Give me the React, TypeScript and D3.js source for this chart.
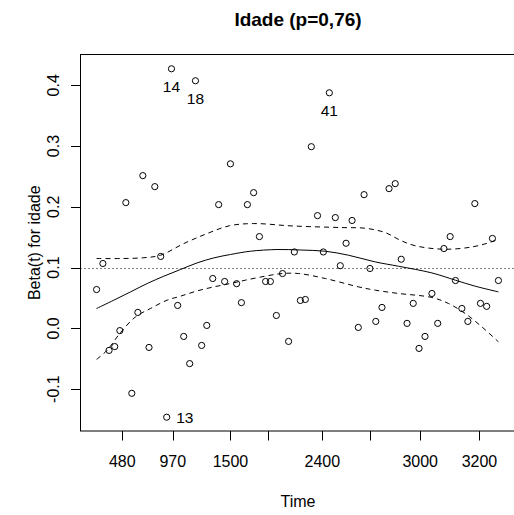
import React from "react";
import * as d3 from "d3";

// transformed time (0..1 over the data range) and scaled Schoenfeld residuals
const times = [
  0, 0.0157, 0.0311, 0.0452, 0.0579, 0.0728, 0.0877, 0.1027, 0.1151, 0.1305,
  0.1449, 0.1596, 0.1745, 0.1864, 0.2018, 0.2168, 0.2317, 0.2461, 0.2615, 0.2742,
  0.2891, 0.3038, 0.3187, 0.3331, 0.3485, 0.3604, 0.3753, 0.3908, 0.4052, 0.4206,
  0.4325, 0.4474, 0.4628, 0.4778, 0.4922, 0.5071, 0.5195, 0.5344, 0.5498, 0.5643,
  0.5792, 0.5941, 0.6065, 0.6209, 0.6358, 0.6513, 0.6657, 0.6803, 0.6948, 0.7102,
  0.7278, 0.7432, 0.7581, 0.7726, 0.788, 0.8024, 0.8173, 0.8345, 0.8489, 0.8643,
  0.8799, 0.8931, 0.909, 0.9239, 0.9413, 0.9553, 0.9707, 0.9851, 1,
];
const betas = [
  0.0639, 0.1067, -0.0363, -0.03, -0.0037, 0.2069, -0.1069, 0.0262, 0.2513, -0.0314,
  0.2332, 0.1183, -0.1462, 0.4271, 0.0377, -0.0133, -0.058, 0.4074, -0.0281, 0.0048,
  0.082, 0.2036, 0.0771, 0.2707, 0.0735, 0.0423, 0.2036, 0.2233, 0.151, 0.0771,
  0.0771, 0.0212, 0.0902, -0.0215, 0.1257, 0.0459, 0.0475, 0.2989, 0.1855, 0.1257,
  0.3876, 0.1823, 0.1031, 0.14, 0.1775, 0.0015, 0.22, 0.0985, 0.0114, 0.0344,
  0.2299, 0.2381, 0.1137, 0.0082, 0.0411, -0.033, -0.0133, 0.0574, 0.0082, 0.1313,
  0.151, 0.0787, 0.0327, 0.0114, 0.2053, 0.0411, 0.0362, 0.1479, 0.0787,
];

const fitT = [0, 0.043, 0.0845, 0.126, 0.1673, 0.2088, 0.2503, 0.2916, 0.3331, 0.3828, 0.4492, 0.5071, 0.5692, 0.6271, 0.6935, 0.7514, 0.8344, 0.8931, 0.9421, 1];
const fitY = [0.0327, 0.0464, 0.06, 0.0738, 0.0858, 0.0968, 0.1077, 0.1159, 0.1215, 0.1269, 0.1297, 0.1289, 0.1269, 0.1203, 0.1093, 0.1022, 0.0912, 0.0792, 0.0694, 0.06];

const upperT = [0, 0.0597, 0.1176, 0.1591, 0.217, 0.2752, 0.3306, 0.391, 0.4865, 0.6107, 0.6687, 0.7184, 0.7557, 0.793, 0.8643, 0.9339, 0.9836, 1];
const upperY = [0.1149, 0.1149, 0.1162, 0.1203, 0.1395, 0.156, 0.1688, 0.1724, 0.1685, 0.1658, 0.1647, 0.1576, 0.145, 0.1359, 0.1302, 0.1339, 0.1425, 0.1474];

const lowerT = [0, 0.0266, 0.0579, 0.0969, 0.1342, 0.1757, 0.2088, 0.2503, 0.2916, 0.3331, 0.3704, 0.4201, 0.4616, 0.5029, 0.5692, 0.652, 0.6935, 0.7514, 0.8344, 0.8757, 0.9172, 0.9587, 1];
const lowerY = [-0.0511, -0.0358, -0.0083, 0.0189, 0.0327, 0.0464, 0.0529, 0.0616, 0.0682, 0.0738, 0.0793, 0.0859, 0.0902, 0.0902, 0.082, 0.0682, 0.0628, 0.0574, 0.0508, 0.0409, 0.0245, 0.0025, -0.0222];

const coefLine = 0.0985;

const xTickPos = [0.0639, 0.1897, 0.3331, 0.4258, 0.5618, 0.6811, 0.8054, 0.9528];
const xTickLabels = ["480", "970", "1500", "", "2400", "", "3000", "3200"];
const yTicks = [-0.1, 0.0, 0.1, 0.2, 0.3, 0.4];

const labelIds = [13, 14, 18, 41];
const labelSides = ["right", "below", "below", "below"];

const title = "Idade (p=0,76)";
const xTitle = "Time";
const yTitle = "Beta(t) for idade";

const FONT = "'Liberation Sans', Arial, Helvetica, sans-serif";

export default function App() {
  const W = 514, H = 515;
  const left = 80.5, right = 514.5, top = 54.5, bottom = 431;
  const x = d3.scaleLinear().domain([-0.04, 1.04]).range([left, right]);
  const y = d3.scaleLinear().domain([-0.1689, 0.4506]).range([bottom, top]);

  const mk = (ts: number[], vs: number[]) =>
    d3.line<number>()
      .x((_, i) => x(ts[i]))
      .y((v) => y(v))
      .curve(d3.curveCatmullRom.alpha(0.5))(vs) || "";

  const fmt = (v: number) => v.toFixed(1);

  return (
    <svg width={W} height={H} style={{ position: "absolute", left: 0, top: 0, background: "#fff" }} fontFamily={FONT}>
      <rect x={0} y={0} width={W} height={H} fill="#fff" />
      <text x={298} y={25.5} textAnchor="middle" fontSize={19} fontWeight="bold" fill="#000">{title}</text>

      {/* reference line */}
      <line x1={left} x2={right} y1={y(coefLine)} y2={y(coefLine)} stroke="#000" strokeWidth={1} strokeDasharray="1,3" />

      {/* curves */}
      <path d={mk(fitT, fitY)} fill="none" stroke="#000" strokeWidth={1} />
      <path d={mk(upperT, upperY)} fill="none" stroke="#000" strokeWidth={1} strokeDasharray="5,4" />
      <path d={mk(lowerT, lowerY)} fill="none" stroke="#000" strokeWidth={1} strokeDasharray="5,4" />

      {/* points */}
      {times.map((t, i) => (
        <circle key={i} cx={x(t)} cy={y(betas[i])} r={3.1} fill="none" stroke="#000" strokeWidth={1} />
      ))}

      {/* point labels */}
      {labelIds.map((id, k) => {
        const cx = x(times[id - 1]);
        const cy = y(betas[id - 1]);
        const side = labelSides[k];
        return side === "right" ? (
          <text key={id} x={cx + 9.5} y={cy + 6} fontSize={15.5} fill="#000">{String(id)}</text>
        ) : (
          <text key={id} x={cx} y={cy + 23.5} textAnchor="middle" fontSize={15.5} fill="#000">{String(id)}</text>
        );
      })}

      {/* box */}
      <rect x={left} y={top} width={right - left} height={bottom - top} fill="none" stroke="#000" strokeWidth={1} />

      {/* x axis */}
      {xTickPos.map((t, i) => (
        <g key={i}>
          <line x1={Math.round(x(t)) + 0.5} x2={Math.round(x(t)) + 0.5} y1={bottom} y2={bottom + 9.5} stroke="#000" strokeWidth={1} />
          {xTickLabels[i] && (
            <text x={x(t)} y={467.3} textAnchor="middle" fontSize={16} fill="#000">{xTickLabels[i]}</text>
          )}
        </g>
      ))}
      <text x={298} y={506.5} textAnchor="middle" fontSize={16} fill="#000">{xTitle}</text>

      {/* y axis */}
      {yTicks.map((v, i) => (
        <g key={i}>
          <line x1={left - 9.5} x2={left} y1={Math.round(y(v)) + 0.5} y2={Math.round(y(v)) + 0.5} stroke="#000" strokeWidth={1} />
          <text transform={`translate(58.5,${y(v)}) rotate(-90)`} textAnchor="middle" fontSize={16} fill="#000">{fmt(v)}</text>
        </g>
      ))}
      <text transform={`translate(40,${(top + bottom) / 2}) rotate(-90)`} textAnchor="middle" fontSize={16} fill="#000">{yTitle}</text>
    </svg>
  );
}
